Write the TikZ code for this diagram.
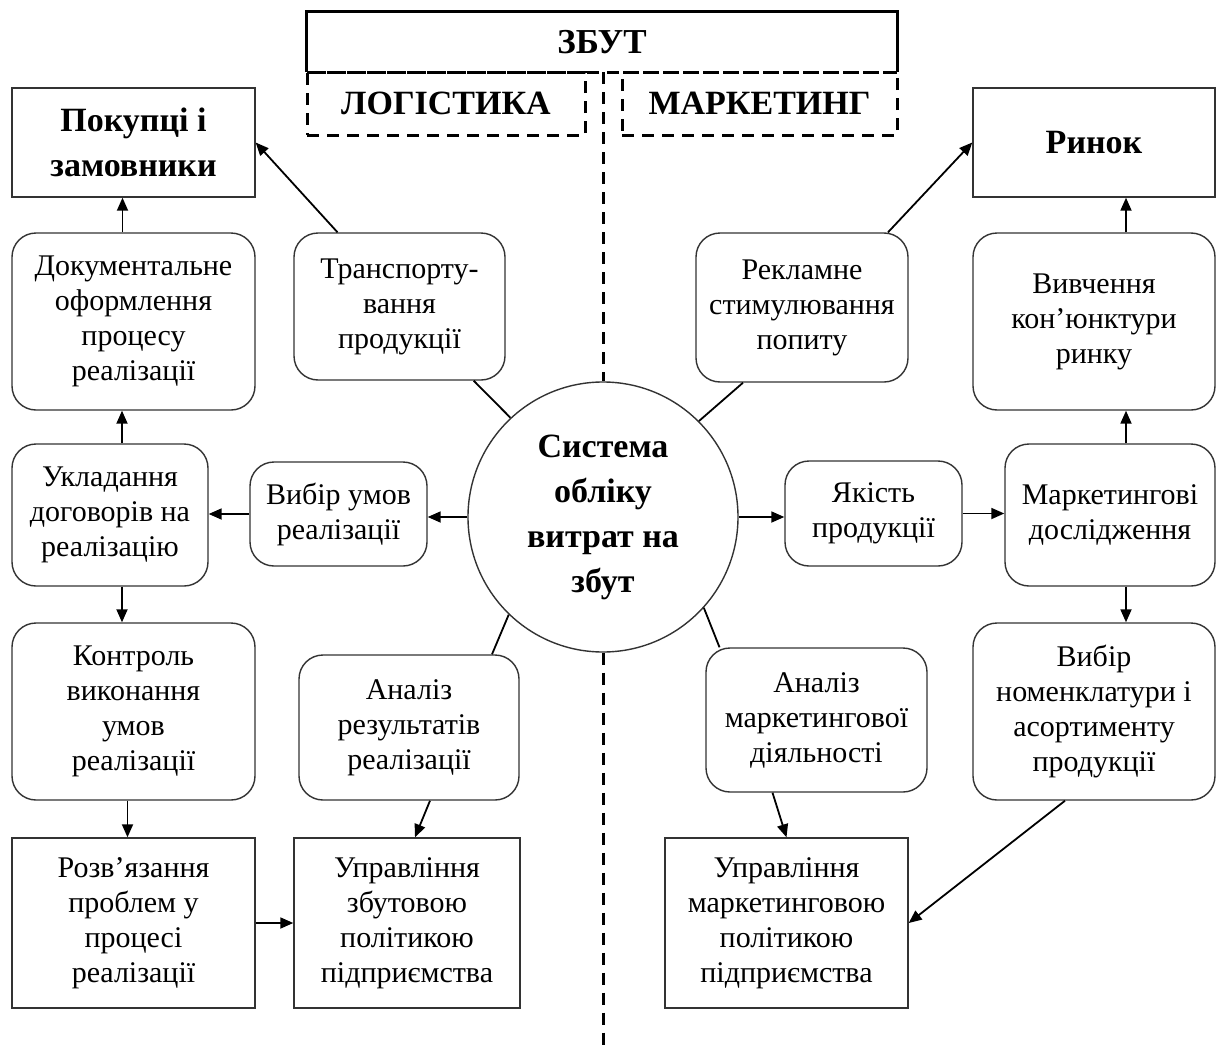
\documentclass[tikz,border=0pt]{standalone}
\usepackage{fontspec}
\setmainfont{Liberation Serif}
\usetikzlibrary{arrows.meta,calc}
\begin{document}
\begin{tikzpicture}[x=1pt,y=-1pt,
  base/.style={draw=black!80, line width=1.4pt, align=center, inner sep=0pt, font=\fontsize{30}{35}\selectfont},
  rbox/.style={base, rounded corners=24pt},
  sbox/.style={base},
  boldtext/.style={font=\fontsize{34}{45}\selectfont\bfseries},
  arr/.style={line width=1.8pt, -{Triangle[length=13pt,width=11pt]}},
  link/.style={line width=1.8pt},
  dashline/.style={line width=3pt, dash pattern=on 12pt off 8pt},
  dashbox/.style={draw, dashline, minimum height=63pt, inner sep=0pt, font=\fontsize{34}{40}\selectfont\bfseries},
]
\useasboundingbox (0,0) rectangle (1224,1052);

% header
\node[minimum width=590pt, minimum height=60pt, inner sep=0pt, font=\fontsize{35}{40}\selectfont\bfseries] (zbut) at (602,42) {ЗБУТ};
\draw[line width=3pt] (zbut.south west) -- (zbut.north west) -- (zbut.north east) -- (zbut.south east);
\node[dashbox, minimum width=278pt] (log) at (446,103.5) {ЛОГІСТИКА};
\node[dashbox, minimum width=275pt] (mkt) at (759.5,103.5) {МАРКЕТИНГ};
\draw[dashline] (zbut.south west) -- (zbut.south east);

% centre
\node[circle, draw=black!80, line width=1.4pt, minimum size=270pt, inner sep=0pt, align=center, boldtext] (circ) at (603,517) {Система\\обліку\\витрат на\\збут};
\coordinate (dtop) at (603,72);
\coordinate (dbot) at (603,1052);
\draw[dashline] (dtop) -- (circ.north);
\draw[dashline] (circ.south) -- (dbot);

% left column
\node[sbox, boldtext, minimum width=243pt, minimum height=109pt] (pok) at (133.5,142.5) {Покупці і\\замовники};
\node[rbox, minimum width=243pt, minimum height=177pt] (doc) at (133.5,321.5) {Документальне\\оформлення\\процесу\\реалізації};
\node[rbox, minimum width=196pt, minimum height=142pt] (ukl) at (110,515) {Укладання\\договорів на\\реалізацію};
\node[rbox, minimum width=243pt, minimum height=177pt] (kon) at (133.5,711.5) {Контроль\\виконання\\умов\\реалізації};
\node[sbox, minimum width=243pt, minimum height=170pt] (roz) at (133.5,923) {Розв’язання\\проблем у\\процесі\\реалізації};

% left middle
\node[rbox, minimum width=211pt, minimum height=147pt] (tra) at (399.5,306.5) {Транспорту-\\вання\\продукції};
\node[rbox, minimum width=177pt, minimum height=104pt] (vyb) at (338.5,514) {Вибір умов\\реалізації};
\node[rbox, minimum width=220pt, minimum height=145pt] (anr) at (409,727.5) {Аналіз\\результатів\\реалізації};
\node[sbox, minimum width=226pt, minimum height=170pt] (uzb) at (407,923) {Управління\\збутовою\\політикою\\підприємства};

% right middle
\node[rbox, minimum width=212pt, minimum height=149pt] (rek) at (802,307.5) {Рекламне\\стимулювання\\попиту};
\node[rbox, minimum width=177pt, minimum height=105pt] (yak) at (873.5,513.5) {Якість\\продукції};
\node[rbox, minimum width=221pt, minimum height=144pt] (anm) at (816.5,720) {Аналіз\\маркетингової\\діяльності};
\node[sbox, minimum width=243pt, minimum height=170pt] (umk) at (786.5,923) {Управління\\маркетинговою\\політикою\\підприємства};

% right column
\node[sbox, boldtext, minimum width=242pt, minimum height=109pt] (rin) at (1094,142.5) {Ринок};
\node[rbox, minimum width=242pt, minimum height=177pt] (viv) at (1094,321.5) {Вивчення\\кон’юнктури\\ринку};
\node[rbox, minimum width=210pt, minimum height=142pt] (mar) at (1110,515) {Маркетингові\\дослідження};
\node[rbox, minimum width=242pt, minimum height=177pt] (vbn) at (1094,711.5) {Вибір\\номенклатури і\\асортименту\\продукції};

% connectors left
\draw[arr] ([xshift=-11pt]doc.north) -- ([xshift=-11pt]pok.south);
\draw[arr] ([xshift=12pt]ukl.north) -- ([xshift=12pt]ukl.north |- doc.south);
\draw[arr] ([xshift=12pt]ukl.south) -- ([xshift=12pt]ukl.south |- kon.north);
\draw[arr] ([xshift=-6pt]kon.south) -- ([xshift=-6pt]kon.south |- roz.north);
\draw[arr] (roz.east) -- (uzb.west);
\draw[arr] ([xshift=21pt]anr.south) -- ([xshift=8pt]uzb.north);
\draw[arr] (circ.west) -- (circ.west -| vyb.east);
\draw[arr] (vyb.west) -- (vyb.west -| ukl.east);
\draw[arr] ([xshift=-62pt]tra.north) -- (pok.east);
\draw[link] ([xshift=-32pt]tra.south east) -- (circ.133);
\draw[link] ([xshift=83pt]anr.north) -- (circ.226);

% connectors right
\draw[arr] ([xshift=86pt]rek.north) -- (rin.west);
\draw[link] ([xshift=-59pt]rek.south) -- (circ.45);
\draw[arr] (circ.east) -- (circ.east -| yak.west);
\draw[arr] (yak.east) -- (yak.east -| mar.west);
\draw[arr] ([xshift=16pt]mar.north) -- ([xshift=16pt]mar.north |- viv.south);
\draw[arr] ([xshift=32pt]viv.north) -- ([xshift=32pt]viv.north |- rin.south);
\draw[arr] ([xshift=16pt]mar.south) -- ([xshift=16pt]mar.south |- vbn.north);
\draw[arr] ([xshift=-29pt]vbn.south) -- (umk.east);
\draw[arr] ([xshift=-44pt]anm.south) -- (umk.north);
\draw[link] ([xshift=-97pt]anm.north) -- (circ.-42);
\end{tikzpicture}
\end{document}
